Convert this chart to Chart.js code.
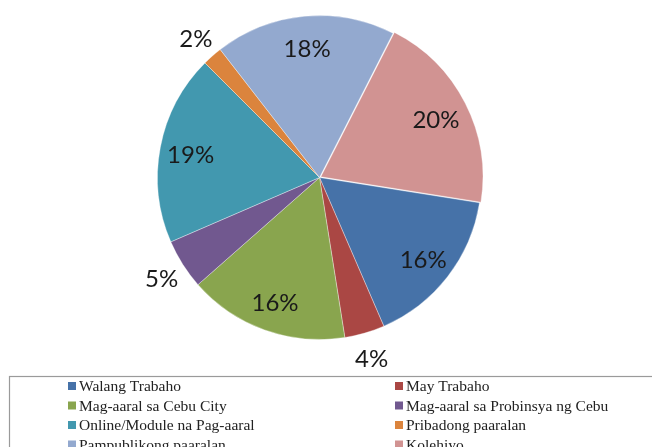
<!DOCTYPE html>
<html>
<head>
<meta charset="utf-8">
<script src="https://cdn.jsdelivr.net/npm/chart.js@4"></script>
<style>
  html, body { margin: 0; padding: 0; background: #fff; }
  #wrap { width: 652px; height: 447px; }
</style>
</head>
<body>
<div id="wrap"><canvas id="pie" width="652" height="447"></canvas></div>
<script>
const categories = [
    'Walang Trabaho',
    'May Trabaho',
    'Mag-aaral sa Cebu City',
    'Mag-aaral sa Probinsya ng Cebu',
    'Online/Module na Pag-aaral',
    'Pribadong paaralan',
    'Pampublikong paaralan',
    'Kolehiyo'
];
const percents = [16, 4, 16, 5, 19, 2, 18, 20];
const sliceColors = ['#4672a8', '#aa4744', '#89a54e', '#71588f', '#4298af', '#db843d', '#93a9cf', '#d19392'];
const explode = [0, 0, 0, 0, 0, 0, 0, 6];

// percent labels: inside the big slices, outside the small ones
const sliceLabels = {
    id: 'sliceLabels',
    afterDatasetsDraw(chart) {
        const ctx = chart.ctx;
        const meta = chart.getDatasetMeta(0);
        ctx.save();
        ctx.font = '24px Lato, "Open Sans", sans-serif';
        ctx.fillStyle = '#1a1a1a';
        ctx.textAlign = 'center';
        ctx.textBaseline = 'middle';
        meta.data.forEach((arc, i) => {
            const p = arc.getProps(['x', 'y', 'startAngle', 'endAngle', 'outerRadius'], true);
            const mid = (p.startAngle + p.endAngle) / 2;
            const cx = p.x + Math.cos(mid) * explode[i];
            const cy = p.y + Math.sin(mid) * explode[i];
            const d = percents[i] < 6 ? p.outerRadius + 25 : p.outerRadius * (i === 7 ? 0.77 : 0.81);
            ctx.fillText(percents[i] + '%', cx + Math.cos(mid) * d, cy + Math.sin(mid) * d + 2);
        });
        ctx.restore();
    }
};

// boxed two-column legend below the pie, like the original sheet
const boxLegend = {
    id: 'boxLegend',
    afterDraw(chart) {
        const ctx = chart.ctx;
        ctx.save();
        ctx.strokeStyle = '#9a9a9a';
        ctx.lineWidth = 1.2;
        ctx.strokeRect(9.5, 376.5, 700, 120);
        ctx.font = '15.5px "Liberation Serif", "Times New Roman", serif';
        ctx.textBaseline = 'middle';
        ctx.textAlign = 'left';
        categories.forEach((name, i) => {
            const col = i % 2;
            const row = Math.floor(i / 2);
            const x = col === 0 ? 68 : 395;
            const y = 386 + row * 19.5;
            ctx.fillStyle = sliceColors[i];
            ctx.fillRect(x, y - 4, 8, 8);
            ctx.fillStyle = '#222';
            ctx.fillText(name, x + 11, y + 1);
        });
        ctx.restore();
    }
};

new Chart(document.getElementById('pie'), {
    type: 'pie',
    data: {
        labels: categories,
        datasets: [{
            data: percents,
            backgroundColor: sliceColors,
            borderColor: 'rgba(255,255,255,0.35)',
            borderWidth: 1,
            offset: explode,
            radius: 162,
            rotation: 99
        }]
    },
    options: {
        responsive: false,
        animation: false,
        layout: { padding: { left: 0, right: 13, top: 0, bottom: 92 } },
        plugins: {
            legend: { display: false },
            tooltip: { enabled: false }
        }
    },
    plugins: [sliceLabels, boxLegend]
});
</script>
</body>
</html>
